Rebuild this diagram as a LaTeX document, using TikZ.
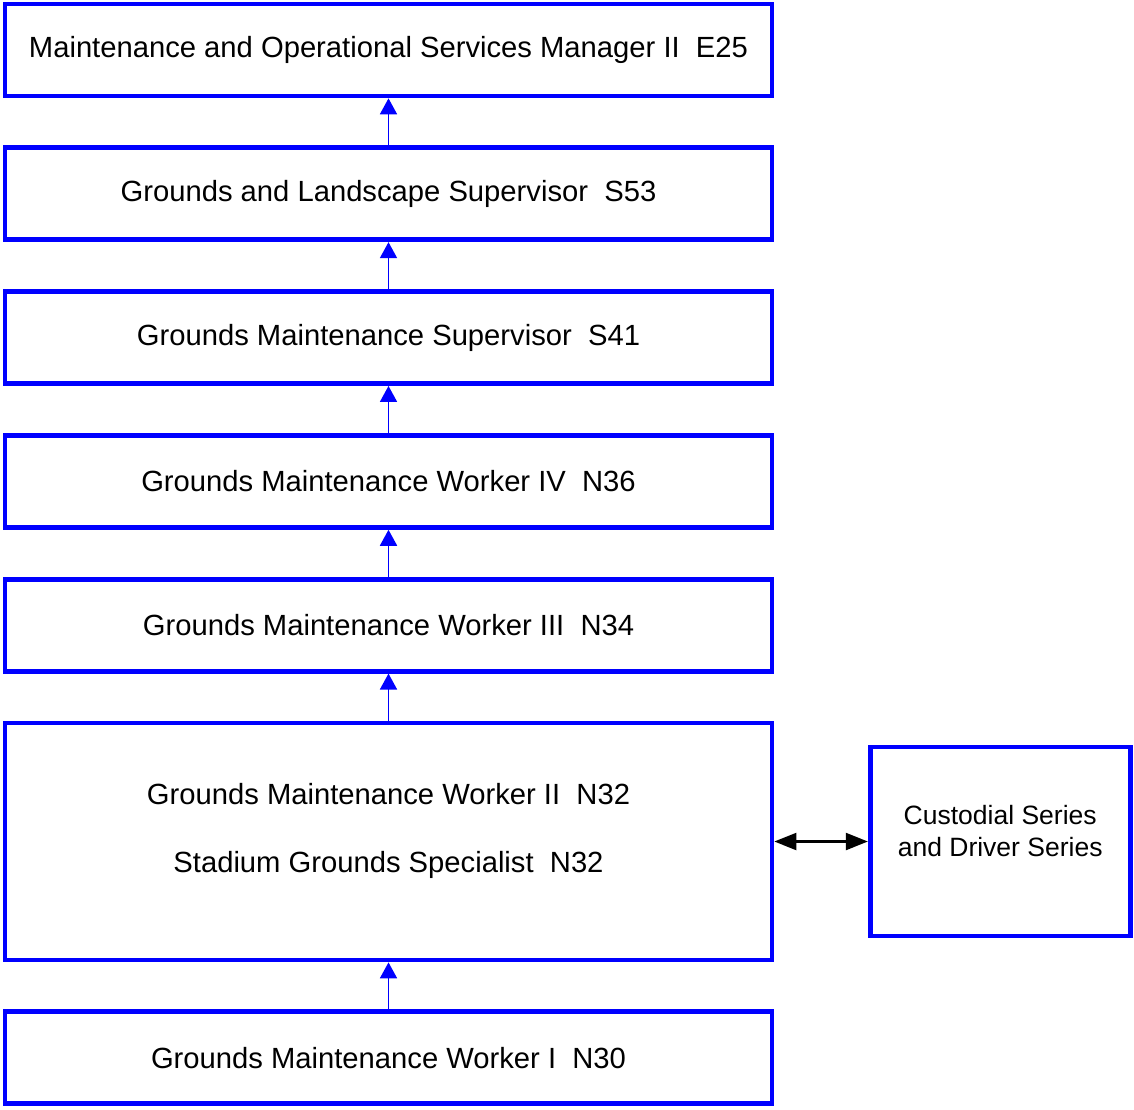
\documentclass[tikz,border=0pt]{standalone}
\usepackage{fontspec}
\setmainfont{Liberation Sans}
\usetikzlibrary{positioning,arrows.meta}

\begin{document}
\begin{tikzpicture}[x=0.5pt,y=-0.5pt,
  every text node part/.style={align=center},
  node distance=23.55pt,
  job/.style={draw=blue, line width=2.35pt, minimum width=383.5pt,
    minimum height=46pt, inner sep=0pt, font=\fontsize{14.6}{17.5}\selectfont},
  up/.style={color=blue, line width=0.9pt, -{Triangle[length=8pt,width=8.5pt]}},
  both/.style={color=black, line width=1.1pt,
    {Triangle[length=11pt,width=8.5pt]}-{Triangle[length=11pt,width=8.5pt]}}]
  \useasboundingbox (0,0) rectangle (1134,1109);

  \node[job]                                   (mos)  at (388.5,50) {Maintenance and Operational Services Manager II~ E25};
  \node[job, below=of mos]                     (gls)  {Grounds and Landscape Supervisor~ S53};
  \node[job, below=of gls]                     (gms)  {Grounds Maintenance Supervisor~ S41};
  \node[job, below=of gms]                     (gmw4) {Grounds Maintenance Worker IV~ N36};
  \node[job, below=of gmw4]                    (gmw3) {Grounds Maintenance Worker III~ N34};
  \node[job, minimum height=118.5pt, below=of gmw3] (gmw2) {};
  \node[job, below=of gmw2]                    (gmw1) {Grounds Maintenance Worker I~ N30};
  \node[font=\fontsize{14.6}{17.5}\selectfont] (gmw2name) at ([yshift=23.75pt]gmw2.center) {Grounds Maintenance Worker II~ N32};
  \node[font=\fontsize{14.6}{17.5}\selectfont] (sgsname)  at ([yshift=-11.75pt]gmw2.center) {Stadium Grounds Specialist~ N32};

  \node[job, node distance=46.75pt, right=of gmw2, minimum width=130pt, minimum height=94.5pt] (cds) {};
  \node[font=\fontsize{13.25}{16}\selectfont]  (cdsname) at ([yshift=5.25pt]cds.center) {Custodial Series\\and Driver Series};

  \path[up]
  (gls)  edge (mos)
  (gms)  edge (gls)
  (gmw4) edge (gms)
  (gmw3) edge (gmw4)
  (gmw2) edge (gmw3)
  (gmw1) edge (gmw2);

  \draw[both] (gmw2.east) -- (cds.west);
\end{tikzpicture}
\end{document}
